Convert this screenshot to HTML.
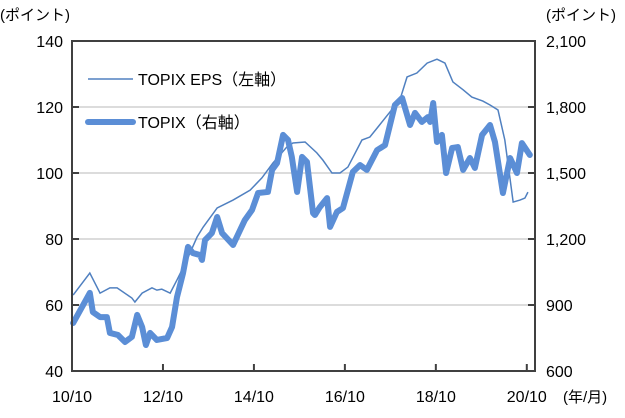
<!DOCTYPE html>
<html><head><meta charset="utf-8"><style>
html,body{margin:0;padding:0;background:#fff;}
svg text{font-family:"Liberation Sans","Noto Sans CJK JP",sans-serif;fill:#000;}
</style></head><body>
<svg id="chart" width="625" height="413" viewBox="0 0 625 413" xmlns="http://www.w3.org/2000/svg">
<g id="grid"></g>
<g id="series"></g>
<rect x="72" y="41" width="463" height="330" fill="none" stroke="#404040" stroke-width="2"/>
<g id="axes"></g>
<text x="0" y="20" font-size="15">(ポイント)</text>
<text x="546" y="20" font-size="15">(ポイント)</text>
<text x="563" y="402" font-size="15">(年/月)</text>
<g>
<line x1="88" y1="79" x2="133" y2="79" stroke="#5080c0" stroke-width="1.5"/>
<text x="138" y="85" font-size="16">TOPIX  EPS（左軸）</text>
<line x1="88" y1="122" x2="133" y2="122" stroke="#5b8ed6" stroke-width="6" stroke-linecap="round"/>
<text x="138" y="128" font-size="16">TOPIX（右軸）</text>
</g>
</svg>
<script>
const xTickLabels=["10/10","12/10","14/10","16/10","18/10","20/10"];
const xTickMonths=[0,24,48,72,96,120];
const leftTicks=[40,60,80,100,120,140];
const rightTicks=[600,900,1200,1500,1800,2100];
const rightTickLabels=["600","900","1,200","1,500","1,800","2,100"];
const topixMonths=[0.3,4.7,5.5,7.4,9.2,10.0,12.1,14.0,15.8,17.2,18.5,19.5,20.6,22.4,25.1,26.4,27.7,29.3,30.6,31.9,33.8,34.3,35.1,36.9,38.3,39.6,42.5,45.6,47.5,49.1,51.7,52.8,54.1,55.7,57.0,58.0,59.4,60.7,62.0,63.6,64.1,65.4,67.3,68.1,69.9,71.5,74.1,76.0,77.8,80.5,82.6,85.2,87.1,89.2,90.5,92.3,93.9,94.5,95.3,96.3,97.6,98.7,100.3,101.8,103.2,105.0,106.3,108.2,110.3,111.6,113.7,115.6,117.4,118.7,120.8];
const topixValues=[818,955,868,845,845,773,764,732,755,855,800,718,773,741,750,800,936,1045,1164,1136,1127,1105,1195,1227,1300,1227,1173,1286,1332,1409,1414,1514,1545,1673,1650,1573,1414,1573,1550,1318,1309,1345,1386,1255,1323,1341,1505,1536,1514,1604,1627,1809,1841,1718,1773,1732,1754,1732,1818,1641,1673,1500,1614,1618,1514,1568,1523,1673,1718,1641,1409,1568,1500,1636,1582];
const epsMonths=[0.3,4.7,7.4,10.0,11.9,15.8,16.6,18.5,21.1,22.4,23.7,25.9,27.7,30.3,33.0,34.6,38.3,42.5,47.0,50.1,53.0,56.7,58.3,61.5,64.6,66.2,68.6,70.7,72.8,76.5,78.6,80.7,83.9,86.5,88.4,91.0,93.7,96.3,98.4,100.5,103.2,105.5,108.4,110.3,112.4,114.2,116.4,118.2,119.5,120.3];
const epsValues=[63.0,69.7,63.6,65.2,65.2,62.1,60.9,63.6,65.2,64.5,64.8,63.6,67.6,73.6,80.6,83.6,89.4,91.8,94.8,98.5,103.0,107.9,109.1,109.4,106.1,103.9,100.0,100.0,101.8,110.0,110.9,113.9,118.5,122.1,129.1,130.3,133.3,134.5,133.3,127.6,125.2,123.0,121.8,120.6,119.1,110.0,91.2,91.8,92.4,94.2];

const NS="http://www.w3.org/2000/svg";
const X=m=>72+m*3.79;
const YL=v=>371-(v-40)*3.3;
const YR=v=>371-(v-600)*0.22;
function mk(tag,attrs,parent){const e=document.createElementNS(NS,tag);for(const k in attrs)e.setAttribute(k,attrs[k]);parent.appendChild(e);return e;}
const grid=document.getElementById('grid'),axes=document.getElementById('axes'),series=document.getElementById('series');
leftTicks.forEach((v,i)=>{
  const y=YL(v);
  if(v>40&&v<140){const g=mk('line',{x1:72,x2:535,y1:y,y2:y,stroke:'#d0d0d0','stroke-width':1.5},grid);
  
  }
  const t=mk('line',{x1:72,x2:79,y1:y,y2:y,stroke:'#404040','stroke-width':2},axes);
  
  
  const l=mk('text',{x:63,y:y+6,'text-anchor':'end','font-size':16},axes);l.textContent=v;
  
  
});
rightTicks.forEach((v,i)=>{
  const y=YR(v);
  const t=mk('line',{x1:528,x2:535,y1:y,y2:y,stroke:'#404040','stroke-width':2},axes);
  
  
  const l=mk('text',{x:546,y:y+6,'font-size':16},axes);l.textContent=rightTickLabels[i];
  
  
});
xTickMonths.forEach((m,i)=>{
  const x=X(m);
  if(i>0){const t=mk('line',{x1:x,x2:x,y1:364,y2:371,stroke:'#404040','stroke-width':2},axes);
  
  }
  const l=mk('text',{x:x,y:402,'text-anchor':'middle','font-size':16},axes);l.textContent=xTickLabels[i];
  
  
});
const eps=mk('polyline',{points:epsMonths.map((m,i)=>X(m)+','+YL(epsValues[i])).join(' '),fill:'none',stroke:'#5080c0','stroke-width':1.5},series);


const tp=mk('polyline',{points:topixMonths.map((m,i)=>X(m)+','+YR(topixValues[i])).join(' '),fill:'none',stroke:'#5b8ed6','stroke-width':6,'stroke-linejoin':'round','stroke-linecap':'round'},series);


</script>
</body></html>
